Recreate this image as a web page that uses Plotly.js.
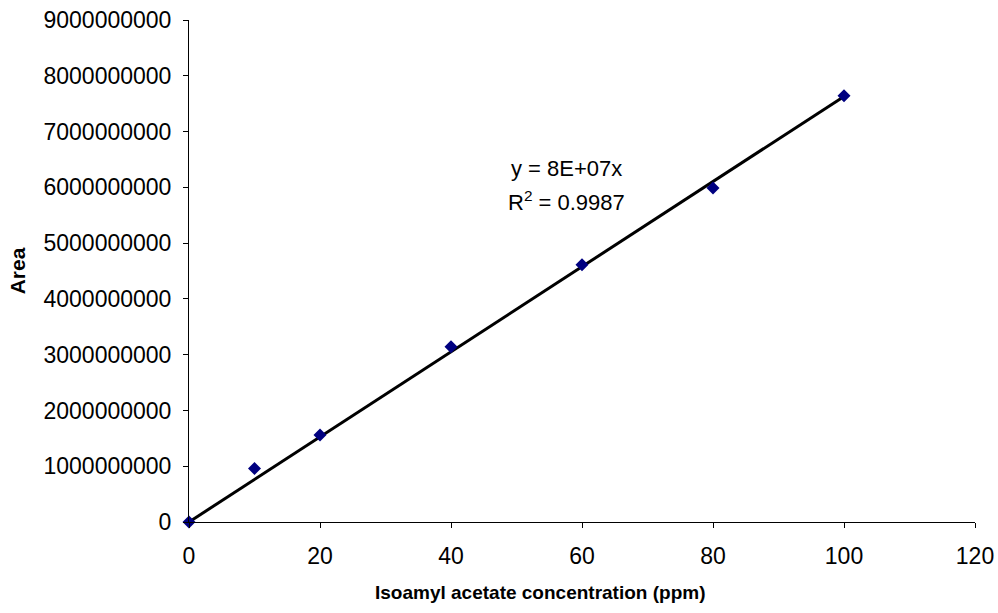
<!DOCTYPE html>
<html>
<head>
<meta charset="utf-8">
<script src="https://cdn.plot.ly/plotly-3.0.1.min.js"></script>
<style>html,body{margin:0;padding:0;background:#fff;}#chart{width:998px;height:613px;}</style>
</head>
<body>
<div id="chart"></div>
<script>
// Data
const concentration = [0, 10, 20, 40, 60, 80, 100];
const area = [0, 960000000, 1560000000, 3140000000, 4610000000, 5990000000, 7640000000];
const xTicks = [0, 20, 40, 60, 80, 100, 120];
const yTicks = [0, 1000000000, 2000000000, 3000000000, 4000000000, 5000000000, 6000000000, 7000000000, 8000000000, 9000000000];
const equationText = "y = 8E+07x";
const r2Text = "R<sup>2</sup> = 0.9987";
const xTitle = "<b>Isoamyl acetate concentration (ppm)</b>";
const yTitle = "<b>Area</b>";

// Linear trendline through origin (least squares)
let sxy = 0, sxx = 0;
for (let i = 0; i < concentration.length; i++) { sxy += concentration[i] * area[i]; sxx += concentration[i] * concentration[i]; }
const slope = sxy / sxx;
const xmin = Math.min(...concentration), xmax = Math.max(...concentration);
const trendX = [xmin, xmax];
const trendY = trendX.map(x => slope * x);

const font = "Liberation Sans, Arial, sans-serif";
const traces = [
  {x: trendX, y: trendY, mode: "lines", line: {color: "#000000", width: 3}, hoverinfo: "skip", showlegend: false},
  {x: concentration, y: area, mode: "markers", marker: {symbol: "diamond", color: "#000080", size: 10}, showlegend: false, cliponaxis: false}
];
const layout = {
  width: 998, height: 613,
  margin: {l: 189, r: 23, t: 20, b: 91},
  paper_bgcolor: "#fff", plot_bgcolor: "#fff",
  font: {family: font, size: 22, color: "#000"},
  showlegend: false,
  xaxis: {
    range: [0, 120], tickvals: xTicks, ticktext: xTicks.map(String),
    showgrid: false, zeroline: false, showline: true, linecolor: "#000", linewidth: 1,
    ticks: "outside", ticklen: 5, tickcolor: "#000", tickfont: {size: 23},
    ticklabelstandoff: 8
  },
  yaxis: {
    range: [0, 9000000000], tickvals: yTicks, ticktext: yTicks.map(String),
    showgrid: false, zeroline: false, showline: true, linecolor: "#000", linewidth: 1,
    ticks: "outside", ticklen: 5, tickcolor: "#000", tickfont: {size: 23},
    ticklabelstandoff: 7,
    title: {text: yTitle, font: {size: 21}, standoff: 12}
  },
  annotations: [
    {xref: "paper", yref: "paper", x: 0.4466, y: -0.1414, text: xTitle, showarrow: false, font: {size: 19}, xanchor: "center", yanchor: "middle"},
    {xref: "x", yref: "y", x: 57.6, y: 6340000000, text: equationText, showarrow: false, font: {size: 22}, xanchor: "center", yanchor: "middle"},
    {xref: "x", yref: "y", x: 57.6, y: 5760000000, text: r2Text, showarrow: false, font: {size: 22}, xanchor: "center", yanchor: "middle"}
  ]
};
Plotly.newPlot("chart", traces, layout, {staticPlot: true, displayModeBar: false});
</script>
</body>
</html>
